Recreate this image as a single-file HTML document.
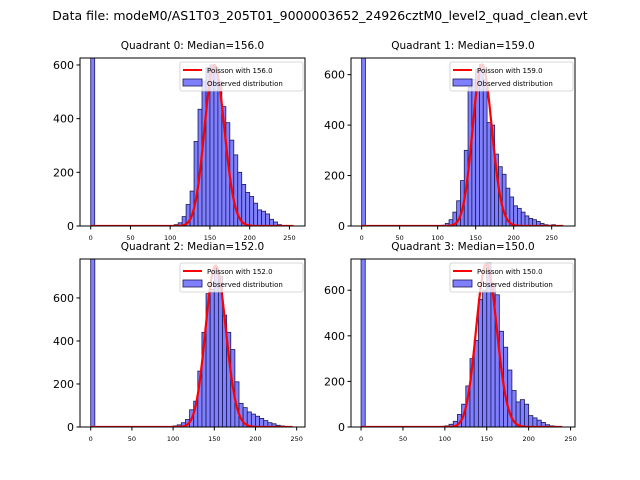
<!DOCTYPE html>
<html><head><meta charset="utf-8"><style>
body{margin:0;background:#fff}
svg{display:block;font-family:"DejaVu Sans","Liberation Sans",sans-serif}
</style></head><body>
<svg id="fig" width="640" height="480" xmlns="http://www.w3.org/2000/svg">
<text x="320" y="20" font-size="12.5" text-anchor="middle">Data file: modeM0/AS1T03_205T01_9000003652_24926cztM0_level2_quad_clean.evt</text>
</svg>
<script>
const q0Counts = [0,2,5,12,35,80,130,315,435,540,590,600,590,540,445,385,320,265,200,155,125,110,85,60,55,45,25,15,5,2];
const q1Counts = [0,0,3,10,25,55,100,180,300,550,580,620,640,580,410,400,285,235,205,150,115,80,70,55,40,30,25,18,10,5,3,5,2,1];
const q2Counts = [2,5,10,20,35,80,120,260,440,620,640,740,700,520,440,360,210,110,90,70,60,50,40,30,20,15,8,5,3];
const q3Counts = [3,5,12,25,55,100,180,300,380,560,600,720,630,580,420,350,250,160,110,120,100,50,40,30,20,10,5,3];
const zeroBinCount = [5000,5000,5000,5000];
const medians = [156.0,159.0,152.0,150.0];
const poissonPeak = [600,640,750,715];
const curveEnd = [255,265,245,240];
const yTicks = [[0,200,400,600],[0,200,400,600],[0,200,400,600],[0,200,400,600]];
const xTicks = [0,50,100,150,200,250];
const yMax = [626,666,781,737];
const xMin = [-13.5,-14,-13,-12];
const xMax = [269.6,280.7,260.1,255.3];

const NS="http://www.w3.org/2000/svg";
const svg=document.getElementById('fig');
function mk(tag,attrs,parent){const e=document.createElementNS(NS,tag);for(const k in attrs)e.setAttribute(k,attrs[k]);(parent||svg).appendChild(e);return e;}
const boxes=[[80,58,305,226],[351,58,575,226],[80,259,305,427],[351,259,575,427]];
const counts=[q0Counts,q1Counts,q2Counts,q3Counts];
const starts=[95,95,95,95];
function lgamma(z){const c=[76.18009172947146,-86.50532032941677,24.01409824083091,-1.231739572450155,0.1208650973866179e-2,-0.5395239384953e-5];let x=z,y=z,t=x+5.5;t-=(x+0.5)*Math.log(t);let s=1.000000000190015;for(let j=0;j<6;j++)s+=c[j]/++y;return -t+Math.log(2.5066282746310005*s/x);}
for(let p=0;p<4;p++){
  const [L,T,R,B]=boxes[p];
  const g=mk('g',{});
  
  
  const xs=v=>L+(v-xMin[p])/(xMax[p]-xMin[p])*(R-L);
  const ys=v=>B-v/yMax[p]*(B-T);
  const cid='clip'+p;
  const cp=mk('clipPath',{id:cid},g);mk('rect',{x:L,y:T,width:R-L,height:B-T},cp);
  const bars=mk('g',{'clip-path':'url(#'+cid+')'},g);
  const z=mk('rect',{x:xs(0),y:ys(zeroBinCount[p]),width:xs(5)-xs(0),height:B-ys(zeroBinCount[p]),fill:'#7f7fff',stroke:'#1a1a55','stroke-width':0.8},bars);
  
  
  counts[p].forEach((c,i)=>{
    const x0=starts[p]+i*5;
    if(c<=0)return;
    const r=mk('rect',{x:xs(x0),y:ys(c),width:xs(x0+5)-xs(x0),height:B-ys(c),fill:'#7f7fff',stroke:'#1a1a55','stroke-width':0.8},bars);
    
    
  });
  const m=medians[p];const lp=k=>k*Math.log(m)-m-lgamma(k+1);
  const peakLog=lp(Math.floor(m));
  let d='';
  for(let k=0;k<=curveEnd[p];k++){const v=poissonPeak[p]*Math.exp(lp(k)-peakLog);d+=(k?'L':'M')+xs(k).toFixed(2)+','+ys(v).toFixed(2);}
  const cv=mk('path',{d:d,fill:'none',stroke:'#ff0000','stroke-width':2.2},bars);
  
  
  const fr=mk('rect',{x:L,y:T,width:R-L,height:B-T,fill:'none',stroke:'#000','stroke-width':1},g);
  
  
  yTicks[p].forEach(v=>{
    mk('line',{x1:L-3.5,x2:L,y1:ys(v),y2:ys(v),stroke:'#000'},g);
    const t=mk('text',{x:L-6,y:ys(v)+4,'font-size':11,'text-anchor':'end'},g);t.textContent=v;
    
    
  });
  xTicks.forEach(v=>{
    mk('line',{x1:xs(v),x2:xs(v),y1:B,y2:B+3.5,stroke:'#000'},g);
    const t=mk('text',{x:xs(v),y:B+14,'font-size':6.5,'text-anchor':'middle'},g);t.textContent=v;
    
    
  });
  const tt=mk('text',{x:(L+R)/2,y:T-9,'font-size':10.5,'text-anchor':'middle'},g);
  tt.textContent='Quadrant '+p+': Median='+medians[p].toFixed(1);
  
  
  const lg=mk('g',{},g);
  
  
  const lw=123,lx=R-2-lw,ly=T+4;
  mk('rect',{x:lx,y:ly,width:lw,height:29,rx:2,fill:'#fff','fill-opacity':0.8,stroke:'#ccc','stroke-width':0.8},lg);
  mk('line',{x1:lx+3,x2:lx+22,y1:ly+8,y2:ly+8,stroke:'#ff0000','stroke-width':2},lg);
  const t1=mk('text',{x:lx+27,y:ly+11,'font-size':7},lg);t1.textContent='Poisson with '+medians[p].toFixed(1);
  
  
  mk('rect',{x:lx+3,y:ly+17,width:19,height:7,fill:'#7f7fff',stroke:'#1a1a55','stroke-width':0.8},lg);
  const t2=mk('text',{x:lx+27,y:ly+24,'font-size':7},lg);t2.textContent='Observed distribution';
  
  
}
</script>
</body></html>
